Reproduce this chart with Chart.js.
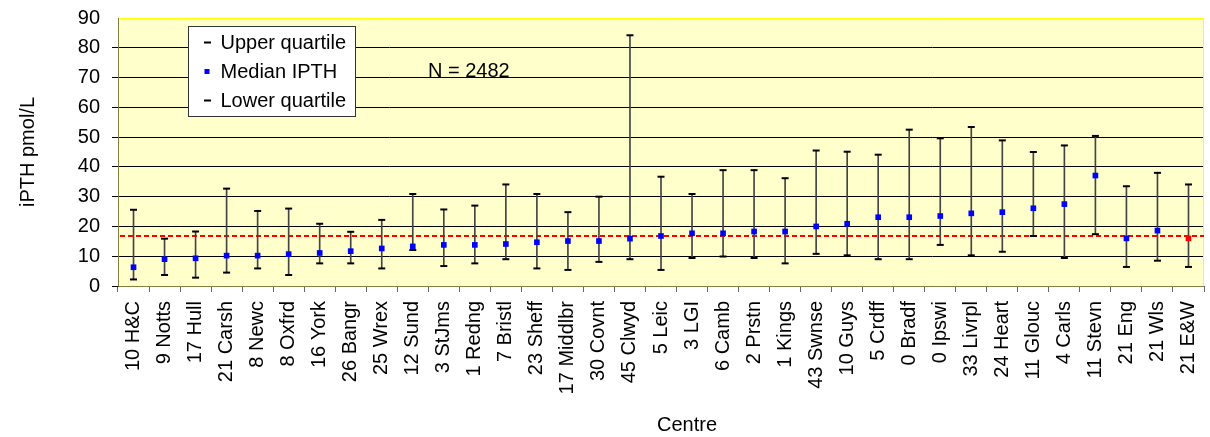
<!DOCTYPE html>
<html>
<head>
<meta charset="utf-8">
<title>iPTH by centre</title>
<script src="https://cdn.jsdelivr.net/npm/chart.js@4.4.1/dist/chart.umd.min.js"></script>
<style>
  html, body { margin: 0; padding: 0; background: #fff; }
  #wrap { width: 1210px; height: 437px; position: relative; }
</style>
</head>
<body>
<div id="wrap"><canvas id="pthChart"></canvas></div>
<script>
// ---- data ----
const centres = ['10 H&C', '9 Notts', '17 Hull', '21 Carsh', '8 Newc', '8 Oxfrd', '16 York', '26 Bangr',
  '25 Wrex', '12 Sund', '3 StJms', '1 Redng', '7 Bristl', '23 Sheff', '17 Middlbr', '30 Covnt', '45 Clwyd',
  '5 Leic', '3 LGI', '6 Camb', '2 Prstn', '1 Kings', '43 Swnse', '10 Guys', '5 Crdff', '0 Bradf', '0 Ipswi',
  '33 Livrpl', '24 Heart', '11 Glouc', '4 Carls', '11 Stevn', '21 Eng', '21 Wls', '21 E&W'];

const upperQuartile = [25.6, 15.9, 18.3, 32.7, 25.2, 26.0, 20.9, 18.2, 22.2, 30.9, 25.7, 27.0, 34.1, 30.9,
  24.8, 30.0, 84.2, 36.7, 30.9, 38.9, 38.9, 36.2, 45.5, 45.1, 44.1, 52.5, 49.6, 53.4, 48.9, 45.0, 47.2,
  50.4, 33.5, 38.0, 34.1];

const medianPTH = [6.3, 9.0, 9.3, 10.2, 10.2, 10.7, 11.1, 11.7, 12.6, 13.3, 13.8, 13.8, 14.1, 14.7, 15.1,
  15.1, 15.9, 16.8, 17.7, 17.7, 18.3, 18.3, 20.0, 20.9, 23.1, 23.1, 23.5, 24.4, 24.8, 26.1, 27.5, 37.1,
  16.0, 18.6, 16.0];

const lowerQuartile = [2.2, 3.7, 2.8, 4.5, 5.9, 3.7, 7.6, 7.6, 5.9, 12.1, 6.7, 7.6, 9.0, 5.9, 5.4, 8.1,
  9.0, 5.4, 9.4, 9.9, 9.4, 7.6, 10.8, 10.3, 9.0, 9.0, 13.8, 10.3, 11.5, 16.8, 9.4, 17.4, 6.4, 8.5, 6.4];

const yTicks = [0, 10, 20, 30, 40, 50, 60, 70, 80, 90];
const referenceLine = 16.8;      // red dashed line (overall median)
const highlighted = '21 E&W';    // median drawn in red
const sampleLabel = 'N = 2482';
const xTitle = 'Centre';

// ---- styles ----
const FONT = 'Liberation Sans, Arial, sans-serif';
const BLUE = '#0000ff';
const RED = '#ff0000';
const PLOT_BG = '#ffffcc';

Chart.defaults.font.family = FONT;
Chart.defaults.font.size = 20;
Chart.defaults.color = '#000';

const medianColours = centres.map(c => c === highlighted ? RED : BLUE);

// background, reference line, frame, legend, N label and x title
const plotDecor = {
  id: 'plotDecor',
  beforeDraw(chart) {
    const { ctx, chartArea: a } = chart;
    ctx.save();
    ctx.fillStyle = PLOT_BG;
    ctx.fillRect(a.left, a.top, a.right - a.left, a.bottom - a.top);
    ctx.restore();
  },
  beforeDatasetsDraw(chart) {
    const { ctx, chartArea: a } = chart;
    const y = chart.scales.y.getPixelForValue(referenceLine);
    ctx.save();
    // plot frame: yellow top/right, olive axis lines left/bottom
    ctx.lineWidth = 1;
    ctx.strokeStyle = '#ffff00';
    ctx.beginPath();
    ctx.moveTo(a.left, a.top + 0.5);
    ctx.lineTo(a.right - 0.5, a.top + 0.5);
    ctx.lineTo(a.right - 0.5, a.bottom);
    ctx.stroke();
    ctx.strokeStyle = '#808040';
    ctx.beginPath();
    ctx.moveTo(a.left + 0.5, a.top);
    ctx.lineTo(a.left + 0.5, a.bottom + 0.5);
    ctx.lineTo(a.right, a.bottom + 0.5);
    ctx.stroke();
    // reference line
    ctx.strokeStyle = RED;
    ctx.lineWidth = 2;
    ctx.setLineDash([5, 3]);
    ctx.beginPath();
    ctx.moveTo(a.left + 2, y);
    ctx.lineTo(a.right, y);
    ctx.stroke();
    ctx.restore();
  },
  afterDraw(chart) {
    const { ctx, chartArea: a } = chart;
    const bx = a.left + 70.5, by = a.top + 8.5, bw = 167, bh = 90;
    ctx.save();
    ctx.fillStyle = '#fff';
    ctx.strokeStyle = '#333';
    ctx.lineWidth = 1;
    ctx.fillRect(bx, by, bw, bh);
    ctx.strokeRect(bx, by, bw, bh);

    const items = chart.data.datasets.filter(d => d.type === 'line');
    ctx.font = '20px ' + FONT;
    ctx.textBaseline = 'middle';
    items.forEach((d, i) => {
      const cy = by + 16 + i * 29;
      const mx = bx + 18.5;
      if (d.pointStyle === 'rect') {
        ctx.fillStyle = BLUE;
        ctx.fillRect(mx - 2.5, cy - 2.5, 5, 5);
      } else {
        ctx.fillStyle = '#000';
        ctx.fillRect(mx - 3, cy - 1, 7, 2);
      }
      ctx.fillStyle = '#000';
      ctx.fillText(d.label, bx + 32, cy + 1);
    });

    ctx.fillText(sampleLabel, a.left + 310, a.top + 53);

    // axis title sits a little right of the plot centre in the original
    ctx.textAlign = 'center';
    ctx.fillText(xTitle, (a.left + a.right) / 2 + 26, chart.height - 12);
    ctx.restore();
  }
};

const ctx = document.getElementById('pthChart').getContext('2d');
const chart = new Chart(ctx, {
  type: 'bar',
  data: {
    labels: centres,
    datasets: [
      {
        type: 'line',
        label: 'Upper quartile',
        data: upperQuartile,
        showLine: false,
        pointStyle: 'line',
        pointRadius: 3.5,
        pointBorderWidth: 2,
        pointBorderColor: '#000',
        order: 1
      },
      {
        type: 'line',
        label: 'Median IPTH',
        data: medianPTH,
        showLine: false,
        pointStyle: 'rect',
        pointRadius: 4,
        pointBorderWidth: 0,
        pointBackgroundColor: medianColours,
        order: 0
      },
      {
        type: 'line',
        label: 'Lower quartile',
        data: lowerQuartile,
        showLine: false,
        pointStyle: 'line',
        pointRadius: 3.5,
        pointBorderWidth: 2,
        pointBorderColor: '#000',
        order: 1
      },
      {
        type: 'bar',
        label: 'Interquartile range',
        data: centres.map((c, i) => [lowerQuartile[i], upperQuartile[i]]),
        backgroundColor: '#444',
        barThickness: 1,
        order: 3
      }
    ]
  },
  options: {
    responsive: true,
    maintainAspectRatio: false,
    animation: false,
    layout: { padding: { top: 18, right: 2, left: 0, bottom: 0 } },
    plugins: {
      legend: { display: false },
      tooltip: { enabled: false }
    },
    scales: {
      x: {
        offset: true,
        grid: { offset: true, drawOnChartArea: false, tickLength: 6, color: '#666' },
        border: { display: false },
        ticks: { autoSkip: false, minRotation: 90, maxRotation: 90, padding: 9 },
        afterFit: s => { s.height = 151; s.paddingLeft = 0; s.paddingRight = 0; }
      },
      y: {
        min: 0,
        max: 90,
        afterBuildTicks: s => { s.ticks = yTicks.map(v => ({ value: v })); },
        ticks: { padding: 12 },
        grid: {
          tickLength: 6,
          color: c => c.tick && c.tick.value === 90 ? 'rgba(0,0,0,0)' : '#000'
        },
        border: { display: false },
        title: { display: true, text: 'iPTH pmol/L', padding: { top: 16, bottom: 0 } },
        afterFit: s => { s.width = 118; s.paddingTop = 0; s.paddingBottom = 0; }
      }
    }
  },
  plugins: [plotDecor]
});
</script>
</body>
</html>
